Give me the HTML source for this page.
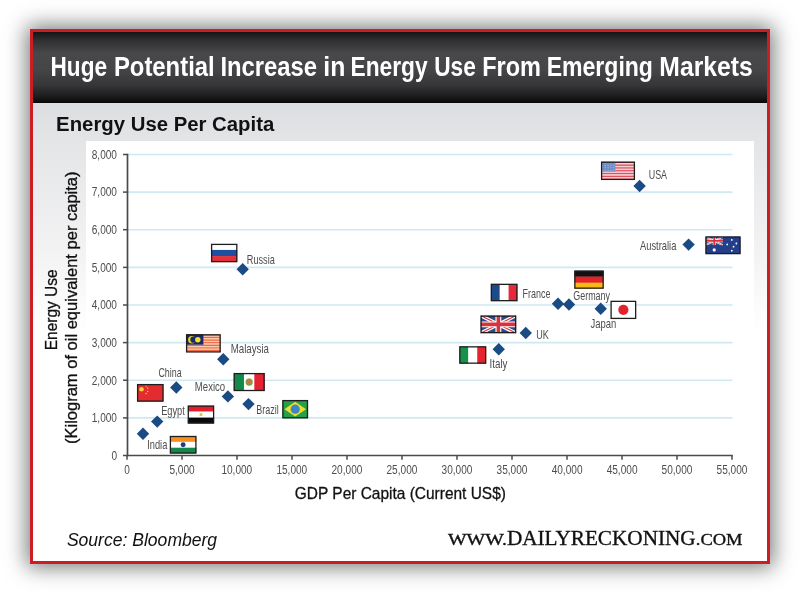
<!DOCTYPE html>
<html><head><meta charset="utf-8"><style>
html,body{margin:0;padding:0;}
body{width:800px;height:593px;position:relative;overflow:hidden;background:#fff;font-family:"Liberation Sans",sans-serif;}
#frame{position:absolute;left:30px;top:29px;width:740px;height:534.6px;box-sizing:border-box;border:3px solid #cc1d25;box-shadow:0 0 20px 3px rgba(0,6,6,0.55);background:linear-gradient(to bottom,#dcdde0 0px,#dcdde0 71px,#e4e5e7 110px,#f2f2f3 215px,#fff 300px);}
#hdr{position:absolute;left:0;top:0;width:734px;height:71px;background:linear-gradient(to bottom,#141414 0%,#303032 12%,#48484a 30%,#464648 52%,#363638 75%,#1a1a1a 92%,#060606 100%);}
#plot{position:absolute;left:86px;top:141px;width:668px;height:360px;background:#fff;}
svg#c{position:absolute;left:0;top:0;will-change:transform;}
</style></head><body>
<div id="frame"><div id="hdr"></div></div>
<div id="plot"></div>
<svg id="c" width="800" height="593" viewBox="0 0 800 593" font-family="Liberation Sans, sans-serif">
<g fill="#fff" font-weight="bold"><text x="50.49" y="76.3" font-size="27.6" textLength="56.54" lengthAdjust="spacingAndGlyphs" >Huge</text><text x="113.90" y="76.3" font-size="27.6" textLength="100.79" lengthAdjust="spacingAndGlyphs" >Potential</text><text x="220.41" y="76.3" font-size="27.6" textLength="96.66" lengthAdjust="spacingAndGlyphs" >Increase</text><text x="323.27" y="76.3" font-size="27.6" textLength="22.02" lengthAdjust="spacingAndGlyphs" >in</text><text x="350.48" y="76.3" font-size="27.6" textLength="77.14" lengthAdjust="spacingAndGlyphs" >Energy</text><text x="434.14" y="76.3" font-size="27.6" textLength="41.64" lengthAdjust="spacingAndGlyphs" >Use</text><text x="482.18" y="76.3" font-size="27.6" textLength="58.78" lengthAdjust="spacingAndGlyphs" >From</text><text x="546.71" y="76.3" font-size="27.6" textLength="106.23" lengthAdjust="spacingAndGlyphs" >Emerging</text><text x="659.35" y="76.3" font-size="27.6" textLength="93.42" lengthAdjust="spacingAndGlyphs" >Markets</text></g>
<text x="56.14" y="130.5" font-size="19.5" textLength="218.13" lengthAdjust="spacingAndGlyphs" font-weight="bold" fill="#111">Energy Use Per Capita</text>
<line x1="128" y1="417.9" x2="732.5" y2="417.9" stroke="#cfe9f3" stroke-width="1.6"/><line x1="128" y1="380.2" x2="732.5" y2="380.2" stroke="#cfe9f3" stroke-width="1.6"/><line x1="128" y1="342.6" x2="732.5" y2="342.6" stroke="#cfe9f3" stroke-width="1.6"/><line x1="128" y1="305.0" x2="732.5" y2="305.0" stroke="#cfe9f3" stroke-width="1.6"/><line x1="128" y1="267.4" x2="732.5" y2="267.4" stroke="#cfe9f3" stroke-width="1.6"/><line x1="128" y1="229.7" x2="732.5" y2="229.7" stroke="#cfe9f3" stroke-width="1.6"/><line x1="128" y1="192.1" x2="732.5" y2="192.1" stroke="#cfe9f3" stroke-width="1.6"/><line x1="128" y1="154.5" x2="732.5" y2="154.5" stroke="#cfe9f3" stroke-width="1.6"/><line x1="127.5" y1="153.7" x2="127.5" y2="456.3" stroke="#4a4a4a" stroke-width="1.7"/><line x1="126.7" y1="455.5" x2="732.8" y2="455.5" stroke="#4a4a4a" stroke-width="1.7"/><line x1="123" y1="455.5" x2="127.5" y2="455.5" stroke="#4a4a4a" stroke-width="1.5"/><line x1="123" y1="417.9" x2="127.5" y2="417.9" stroke="#4a4a4a" stroke-width="1.5"/><line x1="123" y1="380.2" x2="127.5" y2="380.2" stroke="#4a4a4a" stroke-width="1.5"/><line x1="123" y1="342.6" x2="127.5" y2="342.6" stroke="#4a4a4a" stroke-width="1.5"/><line x1="123" y1="305.0" x2="127.5" y2="305.0" stroke="#4a4a4a" stroke-width="1.5"/><line x1="123" y1="267.4" x2="127.5" y2="267.4" stroke="#4a4a4a" stroke-width="1.5"/><line x1="123" y1="229.7" x2="127.5" y2="229.7" stroke="#4a4a4a" stroke-width="1.5"/><line x1="123" y1="192.1" x2="127.5" y2="192.1" stroke="#4a4a4a" stroke-width="1.5"/><line x1="123" y1="154.5" x2="127.5" y2="154.5" stroke="#4a4a4a" stroke-width="1.5"/><line x1="127.0" y1="455.5" x2="127.0" y2="459.8" stroke="#4a4a4a" stroke-width="1.5"/><line x1="182.0" y1="455.5" x2="182.0" y2="459.8" stroke="#4a4a4a" stroke-width="1.5"/><line x1="237.0" y1="455.5" x2="237.0" y2="459.8" stroke="#4a4a4a" stroke-width="1.5"/><line x1="292.0" y1="455.5" x2="292.0" y2="459.8" stroke="#4a4a4a" stroke-width="1.5"/><line x1="347.0" y1="455.5" x2="347.0" y2="459.8" stroke="#4a4a4a" stroke-width="1.5"/><line x1="402.0" y1="455.5" x2="402.0" y2="459.8" stroke="#4a4a4a" stroke-width="1.5"/><line x1="457.0" y1="455.5" x2="457.0" y2="459.8" stroke="#4a4a4a" stroke-width="1.5"/><line x1="512.0" y1="455.5" x2="512.0" y2="459.8" stroke="#4a4a4a" stroke-width="1.5"/><line x1="567.0" y1="455.5" x2="567.0" y2="459.8" stroke="#4a4a4a" stroke-width="1.5"/><line x1="622.0" y1="455.5" x2="622.0" y2="459.8" stroke="#4a4a4a" stroke-width="1.5"/><line x1="677.0" y1="455.5" x2="677.0" y2="459.8" stroke="#4a4a4a" stroke-width="1.5"/><line x1="732.0" y1="455.5" x2="732.0" y2="459.8" stroke="#4a4a4a" stroke-width="1.5"/><g fill="#4d4d4d"><text x="111.38" y="459.8" font-size="12.3" textLength="5.61" lengthAdjust="spacingAndGlyphs" >0</text><text x="91.75" y="422.2" font-size="12.3" textLength="25.24" lengthAdjust="spacingAndGlyphs" >1,000</text><text x="91.75" y="384.5" font-size="12.3" textLength="25.24" lengthAdjust="spacingAndGlyphs" >2,000</text><text x="91.75" y="346.9" font-size="12.3" textLength="25.24" lengthAdjust="spacingAndGlyphs" >3,000</text><text x="91.75" y="309.3" font-size="12.3" textLength="25.24" lengthAdjust="spacingAndGlyphs" >4,000</text><text x="91.75" y="271.7" font-size="12.3" textLength="25.24" lengthAdjust="spacingAndGlyphs" >5,000</text><text x="91.75" y="234.0" font-size="12.3" textLength="25.24" lengthAdjust="spacingAndGlyphs" >6,000</text><text x="91.75" y="196.4" font-size="12.3" textLength="25.24" lengthAdjust="spacingAndGlyphs" >7,000</text><text x="91.75" y="158.8" font-size="12.3" textLength="25.24" lengthAdjust="spacingAndGlyphs" >8,000</text><text x="124.20" y="474" font-size="12.3" textLength="5.61" lengthAdjust="spacingAndGlyphs" >0</text><text x="169.38" y="474" font-size="12.3" textLength="25.24" lengthAdjust="spacingAndGlyphs" >5,000</text><text x="221.39" y="474" font-size="12.3" textLength="30.85" lengthAdjust="spacingAndGlyphs" >10,000</text><text x="276.39" y="474" font-size="12.3" textLength="30.85" lengthAdjust="spacingAndGlyphs" >15,000</text><text x="331.52" y="474" font-size="12.3" textLength="30.85" lengthAdjust="spacingAndGlyphs" >20,000</text><text x="386.52" y="474" font-size="12.3" textLength="30.85" lengthAdjust="spacingAndGlyphs" >25,000</text><text x="441.58" y="474" font-size="12.3" textLength="30.85" lengthAdjust="spacingAndGlyphs" >30,000</text><text x="496.58" y="474" font-size="12.3" textLength="30.85" lengthAdjust="spacingAndGlyphs" >35,000</text><text x="551.66" y="474" font-size="12.3" textLength="30.85" lengthAdjust="spacingAndGlyphs" >40,000</text><text x="606.66" y="474" font-size="12.3" textLength="30.85" lengthAdjust="spacingAndGlyphs" >45,000</text><text x="661.57" y="474" font-size="12.3" textLength="30.85" lengthAdjust="spacingAndGlyphs" >50,000</text><text x="716.57" y="474" font-size="12.3" textLength="30.85" lengthAdjust="spacingAndGlyphs" >55,000</text></g><g transform="translate(601.00,161.60)"><svg width="34.00" height="18.40" viewBox="0 0 34.00 18.40" preserveAspectRatio="none" overflow="hidden"><rect x="0" y="0.00" width="34.00" height="1.62" fill="#e2505e"/><rect x="0" y="1.42" width="34.00" height="1.62" fill="#f6d0d6"/><rect x="0" y="2.83" width="34.00" height="1.62" fill="#e2505e"/><rect x="0" y="4.25" width="34.00" height="1.62" fill="#f6d0d6"/><rect x="0" y="5.66" width="34.00" height="1.62" fill="#e2505e"/><rect x="0" y="7.08" width="34.00" height="1.62" fill="#f6d0d6"/><rect x="0" y="8.49" width="34.00" height="1.62" fill="#e2505e"/><rect x="0" y="9.91" width="34.00" height="1.62" fill="#f6d0d6"/><rect x="0" y="11.32" width="34.00" height="1.62" fill="#e2505e"/><rect x="0" y="12.74" width="34.00" height="1.62" fill="#f6d0d6"/><rect x="0" y="14.15" width="34.00" height="1.62" fill="#e2505e"/><rect x="0" y="15.57" width="34.00" height="1.62" fill="#f6d0d6"/><rect x="0" y="16.98" width="34.00" height="1.62" fill="#e2505e"/><rect x="0" y="0" width="14.28" height="9.91" fill="#6f8cc4"/><rect x="0.93" y="0.84" width="1" height="0.8" fill="#c8d4ec"/><rect x="3.78" y="0.84" width="1" height="0.8" fill="#c8d4ec"/><rect x="6.64" y="0.84" width="1" height="0.8" fill="#c8d4ec"/><rect x="9.50" y="0.84" width="1" height="0.8" fill="#c8d4ec"/><rect x="12.35" y="0.84" width="1" height="0.8" fill="#c8d4ec"/><rect x="0.93" y="3.32" width="1" height="0.8" fill="#c8d4ec"/><rect x="3.78" y="3.32" width="1" height="0.8" fill="#c8d4ec"/><rect x="6.64" y="3.32" width="1" height="0.8" fill="#c8d4ec"/><rect x="9.50" y="3.32" width="1" height="0.8" fill="#c8d4ec"/><rect x="12.35" y="3.32" width="1" height="0.8" fill="#c8d4ec"/><rect x="0.93" y="5.79" width="1" height="0.8" fill="#c8d4ec"/><rect x="3.78" y="5.79" width="1" height="0.8" fill="#c8d4ec"/><rect x="6.64" y="5.79" width="1" height="0.8" fill="#c8d4ec"/><rect x="9.50" y="5.79" width="1" height="0.8" fill="#c8d4ec"/><rect x="12.35" y="5.79" width="1" height="0.8" fill="#c8d4ec"/><rect x="0.93" y="8.27" width="1" height="0.8" fill="#c8d4ec"/><rect x="3.78" y="8.27" width="1" height="0.8" fill="#c8d4ec"/><rect x="6.64" y="8.27" width="1" height="0.8" fill="#c8d4ec"/><rect x="9.50" y="8.27" width="1" height="0.8" fill="#c8d4ec"/><rect x="12.35" y="8.27" width="1" height="0.8" fill="#c8d4ec"/></svg><rect x="0.6" y="0.6" width="32.80" height="17.20" fill="none" stroke="#1e1e1e" stroke-width="1.3"/></g><g transform="translate(705.40,236.40)"><svg width="35.20" height="17.80" viewBox="0 0 35.20 17.80" preserveAspectRatio="none" overflow="hidden"><rect width="35.2" height="17.8" fill="#233f8a"/><svg x="0" y="0" width="17.60" height="8.90" viewBox="0 0 17.60 8.90"><rect width="17.6" height="8.9" fill="#2a4a8c"/><path d="M0 0L17.6 8.9M17.6 0L0 8.9" stroke="#fff" stroke-width="1.78"/><path d="M0 0L17.6 8.9M17.6 0L0 8.9" stroke="#d8323c" stroke-width="0.62"/><path d="M8.8 0V8.9M0 4.45H17.6" stroke="#fff" stroke-width="2.94"/><path d="M8.8 0V8.9M0 4.45H17.6" stroke="#d8323c" stroke-width="1.78"/></svg><circle cx="8.80" cy="13.53" r="1.6" fill="#fff"/><circle cx="26.40" cy="3.56" r="0.9" fill="#fff"/><circle cx="21.82" cy="8.01" r="0.9" fill="#fff"/><circle cx="30.98" cy="7.12" r="0.9" fill="#fff"/><circle cx="26.40" cy="14.24" r="0.9" fill="#fff"/><circle cx="28.16" cy="10.32" r="0.9" fill="#fff"/></svg><rect x="0.6" y="0.6" width="34.00" height="16.60" fill="none" stroke="#1e1e1e" stroke-width="1.3"/></g><g transform="translate(211.00,243.80)"><svg width="26.40" height="18.40" viewBox="0 0 26.40 18.40" preserveAspectRatio="none" overflow="hidden"><rect x="0" y="0.00" width="26.40" height="6.43" fill="#ffffff"/><rect x="0" y="6.13" width="26.40" height="6.43" fill="#1f4fa3"/><rect x="0" y="12.27" width="26.40" height="6.43" fill="#e5323a"/></svg><rect x="0.6" y="0.6" width="25.20" height="17.20" fill="none" stroke="#1e1e1e" stroke-width="1.3"/></g><g transform="translate(574.25,270.50)"><svg width="29.50" height="18.25" viewBox="0 0 29.50 18.25" preserveAspectRatio="none" overflow="hidden"><rect x="0" y="0.00" width="29.50" height="6.38" fill="#111111"/><rect x="0" y="6.08" width="29.50" height="6.38" fill="#e0222a"/><rect x="0" y="12.17" width="29.50" height="6.38" fill="#f5b915"/></svg><rect x="0.6" y="0.6" width="28.30" height="17.05" fill="none" stroke="#1e1e1e" stroke-width="1.3"/></g><g transform="translate(490.75,283.75)"><svg width="26.75" height="17.50" viewBox="0 0 26.75 17.50" preserveAspectRatio="none" overflow="hidden"><rect x="0.00" y="0" width="9.22" height="17.50" fill="#1f4a8a"/><rect x="8.92" y="0" width="9.22" height="17.50" fill="#ffffff"/><rect x="17.83" y="0" width="9.22" height="17.50" fill="#e5283a"/></svg><rect x="0.6" y="0.6" width="25.55" height="16.30" fill="none" stroke="#1e1e1e" stroke-width="1.3"/></g><g transform="translate(610.50,300.75)"><svg width="25.75" height="18.25" viewBox="0 0 25.75 18.25" preserveAspectRatio="none" overflow="hidden"><rect width="25.75" height="18.25" fill="#fff"/><circle cx="12.88" cy="9.12" r="5.11" fill="#e4222e"/></svg><rect x="0.6" y="0.6" width="24.55" height="17.05" fill="none" stroke="#1e1e1e" stroke-width="1.3"/></g><g transform="translate(480.50,315.50)"><svg width="35.75" height="17.75" viewBox="0 0 35.75 17.75" preserveAspectRatio="none" overflow="hidden"><rect width="35.75" height="17.75" fill="#2a4a8c"/><path d="M0 0L35.75 17.75M35.75 0L0 17.75" stroke="#fff" stroke-width="3.55"/><path d="M0 0L35.75 17.75M35.75 0L0 17.75" stroke="#d8323c" stroke-width="1.24"/><path d="M17.875 0V17.75M0 8.875H35.75" stroke="#fff" stroke-width="5.86"/><path d="M17.875 0V17.75M0 8.875H35.75" stroke="#d8323c" stroke-width="3.55"/></svg><rect x="0.6" y="0.6" width="34.55" height="16.55" fill="none" stroke="#1e1e1e" stroke-width="1.3"/></g><g transform="translate(186.00,334.25)"><svg width="34.75" height="18.25" viewBox="0 0 34.75 18.25" preserveAspectRatio="none" overflow="hidden"><rect x="0" y="0.00" width="34.75" height="1.50" fill="#ee6a40"/><rect x="0" y="1.30" width="34.75" height="1.50" fill="#fbc8b0"/><rect x="0" y="2.61" width="34.75" height="1.50" fill="#ee6a40"/><rect x="0" y="3.91" width="34.75" height="1.50" fill="#fbc8b0"/><rect x="0" y="5.21" width="34.75" height="1.50" fill="#ee6a40"/><rect x="0" y="6.52" width="34.75" height="1.50" fill="#fbc8b0"/><rect x="0" y="7.82" width="34.75" height="1.50" fill="#ee6a40"/><rect x="0" y="9.12" width="34.75" height="1.50" fill="#fbc8b0"/><rect x="0" y="10.43" width="34.75" height="1.50" fill="#ee6a40"/><rect x="0" y="11.73" width="34.75" height="1.50" fill="#fbc8b0"/><rect x="0" y="13.04" width="34.75" height="1.50" fill="#ee6a40"/><rect x="0" y="14.34" width="34.75" height="1.50" fill="#fbc8b0"/><rect x="0" y="15.64" width="34.75" height="1.50" fill="#ee6a40"/><rect x="0" y="16.95" width="34.75" height="1.50" fill="#fbc8b0"/><rect x="0" y="0" width="17.38" height="10.43" fill="#19296a"/><circle cx="5.91" cy="5.47" r="3.83" fill="#e6d02a"/><circle cx="7.47" cy="5.47" r="3.10" fill="#19296a"/><circle cx="11.82" cy="5.47" r="2.74" fill="#f2e02a"/></svg><rect x="0.6" y="0.6" width="33.55" height="17.05" fill="none" stroke="#1e1e1e" stroke-width="1.3"/></g><g transform="translate(459.25,346.25)"><svg width="27.00" height="17.50" viewBox="0 0 27.00 17.50" preserveAspectRatio="none" overflow="hidden"><rect x="0.00" y="0" width="9.30" height="17.50" fill="#17924a"/><rect x="9.00" y="0" width="9.30" height="17.50" fill="#ffffff"/><rect x="18.00" y="0" width="9.30" height="17.50" fill="#e4232e"/></svg><rect x="0.6" y="0.6" width="25.80" height="16.30" fill="none" stroke="#1e1e1e" stroke-width="1.3"/></g><g transform="translate(233.60,373.00)"><svg width="31.10" height="18.10" viewBox="0 0 31.10 18.10" preserveAspectRatio="none" overflow="hidden"><rect x="0.00" y="0" width="10.67" height="18.10" fill="#148a4a"/><rect x="10.37" y="0" width="10.67" height="18.10" fill="#ffffff"/><rect x="20.73" y="0" width="10.67" height="18.10" fill="#e42232"/><circle cx="15.55" cy="9.05" r="3.62" fill="#7aa04a"/><circle cx="15.55" cy="8.15" r="2.35" fill="#c97a3a"/></svg><rect x="0.6" y="0.6" width="29.90" height="16.90" fill="none" stroke="#1e1e1e" stroke-width="1.3"/></g><g transform="translate(137.00,384.00)"><svg width="26.60" height="17.70" viewBox="0 0 26.60 17.70" preserveAspectRatio="none" overflow="hidden"><rect width="26.6" height="17.7" fill="#e42b2f"/><circle cx="4.52" cy="5.31" r="2.30" fill="#f4d03a"/><circle cx="9.04" cy="2.12" r="0.7" fill="#f4d03a"/><circle cx="10.64" cy="4.25" r="0.7" fill="#f4d03a"/><circle cx="10.64" cy="7.43" r="0.7" fill="#f4d03a"/><circle cx="9.04" cy="9.56" r="0.7" fill="#f4d03a"/></svg><rect x="0.6" y="0.6" width="25.40" height="16.50" fill="none" stroke="#1e1e1e" stroke-width="1.3"/></g><g transform="translate(187.70,405.50)"><svg width="26.50" height="18.10" viewBox="0 0 26.50 18.10" preserveAspectRatio="none" overflow="hidden"><rect x="0" y="0.00" width="26.50" height="6.33" fill="#e21f2a"/><rect x="0" y="6.03" width="26.50" height="6.33" fill="#ffffff"/><rect x="0" y="12.07" width="26.50" height="6.33" fill="#0a0a0a"/><rect x="11.93" y="7.60" width="2.65" height="2.90" fill="#f2c12e"/></svg><rect x="0.6" y="0.6" width="25.30" height="16.90" fill="none" stroke="#1e1e1e" stroke-width="1.3"/></g><g transform="translate(169.80,435.90)"><svg width="26.70" height="17.70" viewBox="0 0 26.70 17.70" preserveAspectRatio="none" overflow="hidden"><rect x="0" y="0.00" width="26.70" height="6.20" fill="#f7901e"/><rect x="0" y="5.90" width="26.70" height="6.20" fill="#ffffff"/><rect x="0" y="11.80" width="26.70" height="6.20" fill="#14884a"/><circle cx="13.35" cy="8.85" r="2.48" fill="#1f3f7a"/></svg><rect x="0.6" y="0.6" width="25.50" height="16.50" fill="none" stroke="#1e1e1e" stroke-width="1.3"/></g><g transform="translate(282.30,400.00)"><svg width="25.80" height="18.40" viewBox="0 0 25.80 18.40" preserveAspectRatio="none" overflow="hidden"><rect width="25.8" height="18.4" fill="#23a24a"/><path d="M2.06 9.20L12.90 1.84L23.74 9.20L12.90 16.56Z" fill="#f2dc2a"/><circle cx="12.90" cy="9.20" r="4.60" fill="#3d88c4"/></svg><rect x="0.6" y="0.6" width="24.60" height="17.20" fill="none" stroke="#1e1e1e" stroke-width="1.3"/></g><path d="M242.70 263.10L248.90 269.30L242.70 275.50L236.50 269.30Z" fill="#1a4b84"/><path d="M223.25 353.05L229.45 359.25L223.25 365.45L217.05 359.25Z" fill="#1a4b84"/><path d="M176.30 381.30L182.50 387.50L176.30 393.70L170.10 387.50Z" fill="#1a4b84"/><path d="M227.90 390.20L234.10 396.40L227.90 402.60L221.70 396.40Z" fill="#1a4b84"/><path d="M157.20 415.40L163.40 421.60L157.20 427.80L151.00 421.60Z" fill="#1a4b84"/><path d="M143.00 427.50L149.20 433.70L143.00 439.90L136.80 433.70Z" fill="#1a4b84"/><path d="M248.50 397.90L254.70 404.10L248.50 410.30L242.30 404.10Z" fill="#1a4b84"/><path d="M558.00 297.55L564.20 303.75L558.00 309.95L551.80 303.75Z" fill="#1a4b84"/><path d="M569.00 298.30L575.20 304.50L569.00 310.70L562.80 304.50Z" fill="#1a4b84"/><path d="M600.75 302.55L606.95 308.75L600.75 314.95L594.55 308.75Z" fill="#1a4b84"/><path d="M525.75 326.80L531.95 333.00L525.75 339.20L519.55 333.00Z" fill="#1a4b84"/><path d="M498.75 343.05L504.95 349.25L498.75 355.45L492.55 349.25Z" fill="#1a4b84"/><path d="M639.60 179.80L645.80 186.00L639.60 192.20L633.40 186.00Z" fill="#1a4b84"/><path d="M688.60 238.40L694.80 244.60L688.60 250.80L682.40 244.60Z" fill="#1a4b84"/><text x="246.75" y="264.2" font-size="12.1" textLength="28.05" lengthAdjust="spacingAndGlyphs" fill="#4d4d4d">Russia</text><text x="230.70" y="352.9" font-size="12.1" textLength="38.30" lengthAdjust="spacingAndGlyphs" fill="#4d4d4d">Malaysia</text><text x="158.45" y="377.4" font-size="12.1" textLength="23.25" lengthAdjust="spacingAndGlyphs" fill="#4d4d4d">China</text><text x="194.81" y="391.2" font-size="12.1" textLength="30.39" lengthAdjust="spacingAndGlyphs" fill="#4d4d4d">Mexico</text><text x="161.14" y="414.8" font-size="12.1" textLength="23.63" lengthAdjust="spacingAndGlyphs" fill="#4d4d4d">Egypt</text><text x="147.25" y="448.5" font-size="12.1" textLength="20.05" lengthAdjust="spacingAndGlyphs" fill="#4d4d4d">India</text><text x="256.16" y="414.0" font-size="12.1" textLength="22.54" lengthAdjust="spacingAndGlyphs" fill="#4d4d4d">Brazil</text><text x="522.52" y="297.8" font-size="12.1" textLength="27.88" lengthAdjust="spacingAndGlyphs" fill="#4d4d4d">France</text><text x="573.30" y="300.3" font-size="12.1" textLength="36.72" lengthAdjust="spacingAndGlyphs" fill="#4d4d4d">Germany</text><text x="590.60" y="328" font-size="12.1" textLength="25.76" lengthAdjust="spacingAndGlyphs" fill="#4d4d4d">Japan</text><text x="536.30" y="338.5" font-size="12.1" textLength="12.55" lengthAdjust="spacingAndGlyphs" fill="#4d4d4d">UK</text><text x="489.60" y="367.8" font-size="12.1" textLength="17.92" lengthAdjust="spacingAndGlyphs" fill="#4d4d4d">Italy</text><text x="648.71" y="178.8" font-size="12.1" textLength="18.30" lengthAdjust="spacingAndGlyphs" fill="#4d4d4d">USA</text><text x="639.98" y="249.8" font-size="12.1" textLength="36.42" lengthAdjust="spacingAndGlyphs" fill="#4d4d4d">Australia</text>
<g transform="translate(56.6,349) rotate(-90)"><text x="-1.27" y="0" font-size="16.6" textLength="80.86" lengthAdjust="spacingAndGlyphs" fill="#111" stroke="#111" stroke-width="0.3">Energy Use</text></g>
<g transform="translate(77,443) rotate(-90)"><text x="-1.02" y="0" font-size="16.6" textLength="272.55" lengthAdjust="spacingAndGlyphs" fill="#111" stroke="#111" stroke-width="0.3">(Kilogram of oil equivalent per capita)</text></g>
<text x="294.82" y="498.5" font-size="16.6" textLength="211.13" lengthAdjust="spacingAndGlyphs" fill="#111" stroke="#111" stroke-width="0.3">GDP Per Capita (Current US$)</text>
<text x="66.90" y="545.6" font-size="18.5" textLength="150.25" lengthAdjust="spacingAndGlyphs" font-style="italic" fill="#111">Source: Bloomberg</text>
<g font-family="Liberation Serif, serif" fill="#111" stroke="#111" stroke-width="0.35"><text x="447.98" y="545.2" font-size="17" textLength="58.88" lengthAdjust="spacingAndGlyphs" >WWW.</text><text x="506.90" y="545.2" font-size="21.8" textLength="188.76" lengthAdjust="spacingAndGlyphs" >DAILYRECKONING</text><text x="695.78" y="545.2" font-size="17" textLength="46.76" lengthAdjust="spacingAndGlyphs" >.COM</text></g>
</svg>
</body></html>
